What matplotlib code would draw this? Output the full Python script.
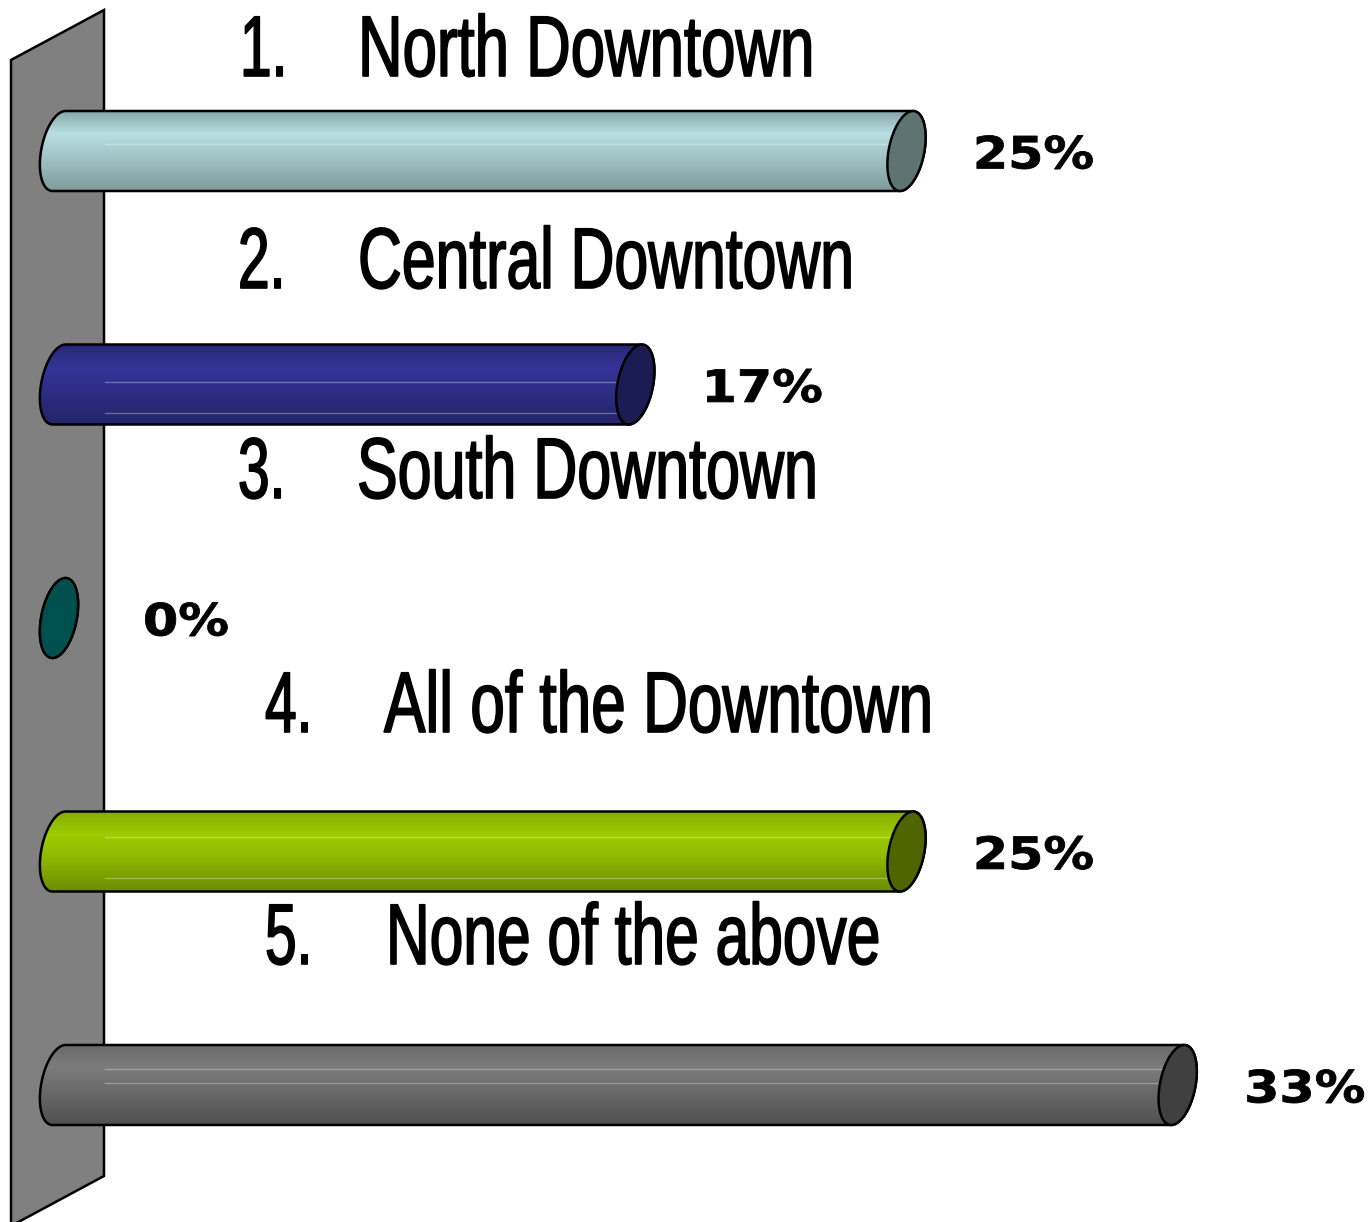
import numpy as np
import matplotlib.pyplot as plt
from matplotlib.colors import to_rgb
from matplotlib.patches import Polygon, PathPatch
from matplotlib.path import Path
from matplotlib.patheffects import AbstractPathEffect
from matplotlib.transforms import Affine2D

# Datos de la gráfica
categories = ["North Downtown", "Central Downtown", "South Downtown", "All of the Downtown", "None of the above"]
numbers = ["1.", "2.", "3.", "4.", "5."]
values = [25, 17, 0, 25, 33]
value_labels = ["25%", "17%", "0%", "25%", "33%"]

# Posiciones en pixeles de las etiquetas
num_x = [240, 238, 238, 265, 265]
cat_x = [358, 358, 357, 384, 386]
baselines = [76, 288, 498, 732, 964]
cat_stretch = [0.717, 0.705, 0.708, 0.7215, 0.7025]

# Colores: arriba, brillo, medio, abajo, tapa
bar_colors = [
    ["#86a6a8", "#b9dfe3", "#a3c6c8", "#7f9a9b", "#5f7373"],
    ["#28287a", "#343498", "#2e2e88", "#242468", "#1c1c54"],
    ["#005050", "#005050", "#005050", "#005050", "#005050"],
    ["#86ad00", "#9ccc00", "#8fbb00", "#6c8c00", "#4f6600"],
    ["#6a6a6a", "#7c7c7c", "#6c6c6c", "#505050", "#404040"],
]
highlights = [[-0.03], [-0.01, 0.12], [], [-0.06, 0.115], [-0.07, -0.01]]

plt.rcParams["font.family"] = ["Liberation Sans", "DejaVu Sans"]


# Estira el texto en horizontal alrededor de x0 (en pixeles de la figura)
class Stretch(AbstractPathEffect):
    def __init__(self, sx, x0, stroke=0):
        super().__init__()
        self.sx = sx
        self.x0 = x0
        self.stroke = stroke

    def draw_path(self, renderer, gc, tpath, affine, rgbFace=None):
        tr = affine + Affine2D().translate(-self.x0, 0).scale(self.sx, 1).translate(self.x0, 0)
        gc0 = renderer.new_gc()
        gc0.copy_properties(gc)
        if self.stroke:
            gc0.set_linewidth(self.stroke)
            gc0.set_foreground(rgbFace)
        renderer.draw_path(gc0, tpath, tr, rgbFace)
        gc0.restore()


W, H = 1372, 1222
fig = plt.figure(figsize=(W / 100, H / 100), dpi=100)

# Ejes en pixeles para la pared y los textos
pix = fig.add_axes([0, 0, 1, 1])
pix.set_xlim(0, W)
pix.set_ylim(H, 0)
pix.axis("off")
pix.add_patch(
    Polygon(
        [(11, 60), (104, 10), (104, 1176), (11, 1226)],
        closed=True,
        facecolor="#808080",
        edgecolor="black",
        linewidth=1.8,
    )
)

# Ejes de datos para las barras
px_per_pct = 33.9
px_per_cat = 233.5
ax = fig.add_axes([0, 0, 1, 1], zorder=2)
ax.patch.set_alpha(0)
ax.set_xlim(-59 / px_per_pct, (W - 59) / px_per_pct)
ax.set_ylim((H - 151) / px_per_cat, -151 / px_per_cat)
ax.axis("off")

a = 18 / px_per_pct
s = 6.5 / px_per_pct
b = 40 / px_per_cat


def elipse(cx, cy, t):
    return np.column_stack([cx + a * np.cos(t) + s * np.sin(t), cy - b * np.sin(t)])


for i, (val, cols) in enumerate(zip(values, bar_colors)):
    # Cuerpo del cilindro
    left = elipse(0, i, np.linspace(np.pi / 2, 3 * np.pi / 2, 40))
    right = elipse(val, i, np.linspace(-np.pi / 2, np.pi / 2, 40))
    body = np.vstack([left, right, left[:1]])
    rgb = np.array([to_rgb(c) for c in cols[:4]])
    pos = np.linspace(0, 1, 120)
    grad = np.stack(
        [np.interp(pos, [0, 0.28, 0.55, 1], rgb[:, k]) for k in range(3)], axis=1
    )[:, None, :]
    img = ax.imshow(
        grad,
        extent=(-a - s, val + a + s, i + b, i - b),
        aspect="auto",
        interpolation="bilinear",
        zorder=3,
    )
    outline = PathPatch(Path(body), facecolor="none", edgecolor="black", linewidth=1.8, zorder=4)
    ax.add_patch(outline)
    img.set_clip_path(outline)
    for h in highlights[i]:
        ax.plot([46 / px_per_pct, val - 0.3], [i + h, i + h], color="white", alpha=0.3, lw=1, zorder=3.5)
    # Tapa del cilindro
    cap = elipse(val, i, np.linspace(0, 2 * np.pi, 80))
    ax.add_patch(
        Polygon(cap, closed=True, facecolor=cols[4], edgecolor="black", linewidth=1.8, zorder=5)
    )
    # Etiqueta de porcentaje
    xc = val + 127 / px_per_pct
    ax.text(
        xc,
        i + 0.021,
        value_labels[i],
        ha="center",
        va="center",
        fontsize=32,
        fontweight="bold",
        family="DejaVu Sans",
        color="black",
        path_effects=[Stretch(1.14, ax.transData.transform((xc, i))[0], stroke=0.6)],
    )

for i in range(len(categories)):
    for x, txt, sx in ((num_x[i], numbers[i], 0.66), (cat_x[i], categories[i], cat_stretch[i])):
        pix.text(
            x,
            baselines[i],
            txt,
            fontsize=62,
            va="baseline",
            ha="left",
            color="black",
            path_effects=[Stretch(sx, pix.transData.transform((x, 0))[0], stroke=1.2)],
        )

fig.savefig("out.png", dpi=100)
